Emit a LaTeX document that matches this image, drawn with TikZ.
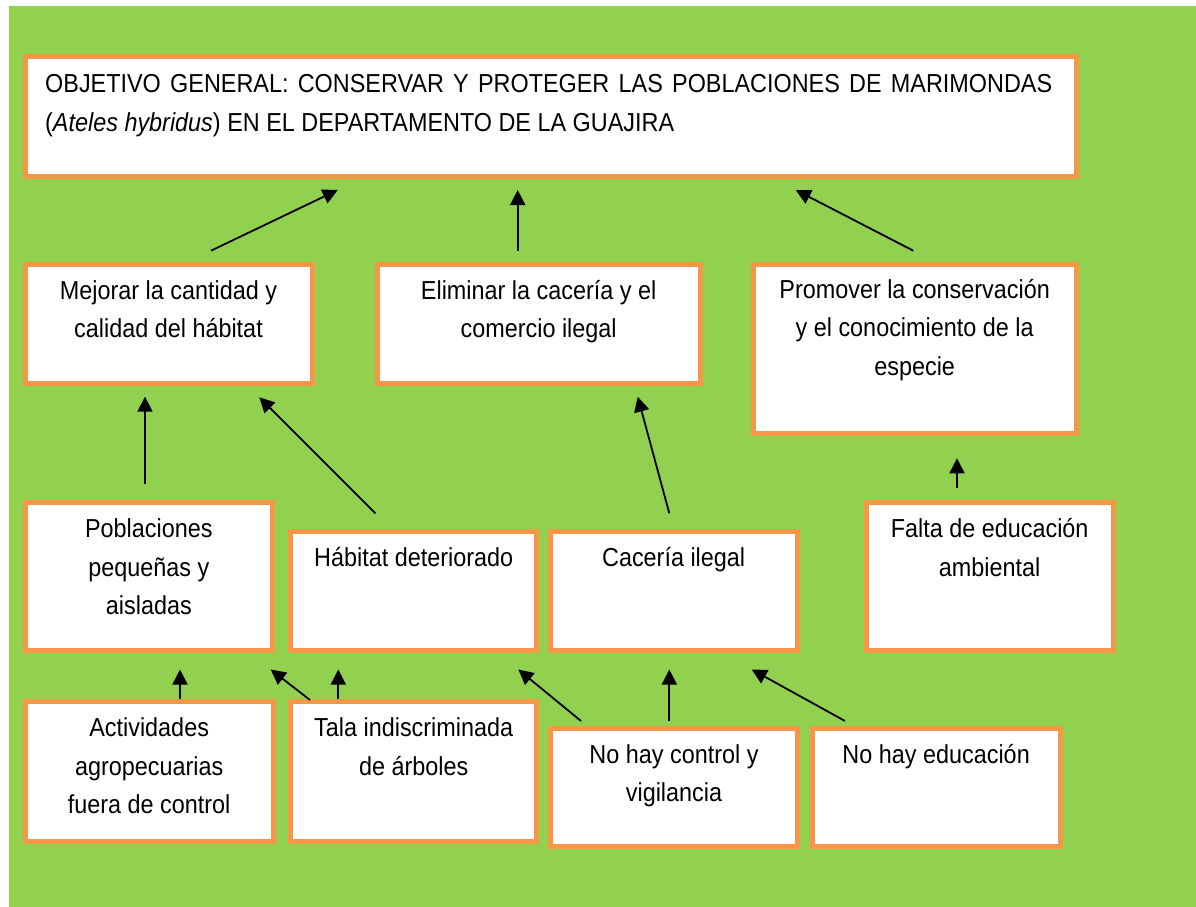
\documentclass[tikz,border=0pt]{standalone}
\usepackage{fontspec}
\setmainfont{Liberation Sans}[FakeStretch=0.9]
\usetikzlibrary{arrows.meta,calc}
\definecolor{bggreen}{RGB}{146,208,80}
\definecolor{orng}{RGB}{247,150,70}
\begin{document}
\begin{tikzpicture}[x=1pt,y=-1pt,
  box/.style={draw=orng, line width=5pt, fill=white, inner sep=0pt, anchor=north west},
  txt/.style={anchor=base, align=center, inner sep=0pt, font=\fontsize{26}{38.5}\selectfont},
  arr/.style={line width=1.8pt, -{Triangle[length=15pt,width=15pt]}}]
\useasboundingbox (0,0) rectangle (1196,907);
\fill[bggreen] (9,6) rectangle (1196,907);

% top goal
\node[box, minimum width=1051pt, minimum height=119pt] (goal) at (22.5,54.5) {};
\node[anchor=base west, align=left, inner sep=0pt, font=\fontsize{26}{39}\selectfont] (goalT) at (45,131.7)
  {\makebox[1007pt][s]{OBJETIVO GENERAL: CONSERVAR Y PROTEGER LAS POBLACIONES DE MARIMONDAS}\\(\textit{Ateles hybridus}) EN EL DEPARTAMENTO DE LA GUAJIRA};

% row 2 (base anchor = last line baseline)
\node[box, minimum width=287pt, minimum height=119pt] (mej) at (22.5,261.5) {};
\node[txt] (mejT) at ($(mej.north)+(0,76)$) {Mejorar la cantidad y\\calidad del hábitat};
\node[box, minimum width=322.7pt, minimum height=119pt] (eli) at (374.8,261.5) {};
\node[txt] (eliT) at ($(eli.north)+(0,76)$) {Eliminar la cacería y el\\comercio ilegal};
\node[box, minimum width=322.7pt, minimum height=169pt] (pro) at (750.8,261.8) {};
\node[txt] (proT) at ($(pro.north)+(0,113.5)$) {Promover la conservación\\y el conocimiento de la\\especie};

% row 3
\node[box, minimum width=247.7pt, minimum height=147.3pt] (pob) at (22.5,500.2) {};
\node[txt] (pobT) at ($(pob.north)+(0,114.5)$) {Poblaciones\\pequeñas y\\aisladas};
\node[box, minimum width=246pt, minimum height=119pt] (hab) at (288.2,528.5) {};
\node[txt] (habT) at ($(hab.north)+(0,38)$) {Hábitat deteriorado};
\node[box, minimum width=247.3pt, minimum height=119pt] (cac) at (547.5,528.5) {};
\node[txt] (cacT) at ($(cac.north)+(0,38)$) {Cacería ilegal};
\node[box, minimum width=247.3pt, minimum height=147.3pt] (fal) at (863.5,500.2) {};
\node[txt] (falT) at ($(fal.north)+(0,76)$) {Falta de educación\\ambiental};

% row 4
\node[box, minimum width=248.3pt, minimum height=140pt] (act) at (22.5,699.2) {};
\node[txt] (actT) at ($(act.north)+(0,114.5)$) {Actividades\\agropecuarias\\fuera de control};
\node[box, minimum width=246pt, minimum height=140pt] (tal) at (288.2,699.2) {};
\node[txt] (talT) at ($(tal.north)+(0,76)$) {Tala indiscriminada\\de árboles};
\node[box, minimum width=246.6pt, minimum height=118.4pt] (con) at (548.2,725.8) {};
\node[txt] (conT) at ($(con.north)+(0,76)$) {No hay control y\\vigilancia};
\node[box, minimum width=247.7pt, minimum height=118.4pt] (edu) at (809.8,725.8) {};
\node[txt] (eduT) at ($(edu.north)+(0,37.5)$) {No hay educación};

% arrow end points
\coordinate (a1s) at (211,250.7);   \coordinate (a1e) at (337.7,190);
\coordinate (a2s) at (517.7,251);   \coordinate (a2e) at (517.7,190);
\coordinate (a3s) at (913.3,250.7); \coordinate (a3e) at (795.7,190);
\coordinate (a4s) at (145,484.3);   \coordinate (a4e) at (145,396.7);
\coordinate (a5s) at (375.5,513.3); \coordinate (a5e) at (259.3,397.3);
\coordinate (a6s) at (669.3,513.3); \coordinate (a6e) at (637.7,396.7);
\coordinate (a7s) at (957,487.7);   \coordinate (a7e) at (957,458.3);
\coordinate (a8s) at (180,699.3);   \coordinate (a8e) at (180,669.5);
\coordinate (a9s) at (310,700);     \coordinate (a9e) at (270.7,669.5);
\coordinate (a10s) at (338.3,699.3);\coordinate (a10e) at (338.3,669.5);
\coordinate (a11s) at (581,721);    \coordinate (a11e) at (518.3,669.5);
\coordinate (a12s) at (669.3,721);  \coordinate (a12e) at (669.3,669.5);
\coordinate (a13s) at (845,721);    \coordinate (a13e) at (751.7,669.5);

\foreach \i in {1,...,13} \draw[arr] (a\i s) -- (a\i e);
\end{tikzpicture}
\end{document}
